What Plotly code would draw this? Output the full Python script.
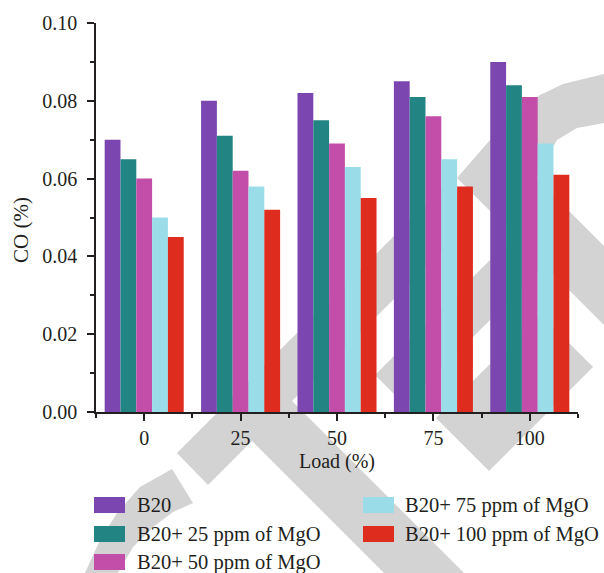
import plotly.graph_objects as go

# ---- data -------------------------------------------------------------
loads = ["0", "25", "50", "75", "100"]
series_names = [
    "B20",
    "B20+ 25 ppm of MgO",
    "B20+ 50 ppm of MgO",
    "B20+ 75 ppm of MgO",
    "B20+ 100 ppm of MgO",
]
co_b20 = [0.070, 0.080, 0.082, 0.085, 0.090]
co_mgo25 = [0.065, 0.071, 0.075, 0.081, 0.084]
co_mgo50 = [0.060, 0.062, 0.069, 0.076, 0.081]
co_mgo75 = [0.050, 0.058, 0.063, 0.065, 0.069]
co_mgo100 = [0.045, 0.052, 0.055, 0.058, 0.061]
y_ticks = [0.00, 0.02, 0.04, 0.06, 0.08, 0.10]

# ---- styling ----------------------------------------------------------
colors = ["#7B46B0", "#238583", "#C34EA9", "#9ADDE9", "#DE2C1F"]
FONT = "Liberation Serif"
INK = "#231F20"
W, H = 604, 573
PL, PR, PT, PB = 96, 578, 23, 412   # plot area in pixels


def px(x, y):
    """Pixel position -> paper coordinates."""
    return (x - PL) / (PR - PL), (PB - y) / (PB - PT)


def poly_path(points):
    parts = []
    for i, (x, y) in enumerate(points):
        u, v = px(x, y)
        parts.append(("M" if i == 0 else "L") + f"{u:.4f},{v:.4f}")
    return " ".join(parts) + " Z"


# light grey background emblem
emblem = [
    [(457, 178), (490, 140), (515, 114), (540, 95), (563, 84), (604, 74),
     (660, 68), (660, 120), (604, 123), (577, 128), (557, 140), (536, 178),
     (660, 302), (660, 381)],
    [(177, 453), (208, 485), (452, 241), (452, 178)],
    [(240, 429), (430, 619), (510, 619), (285, 394)],
    [(375, 375), (555, 195), (555, 255), (405, 405)],
    [(436, 418), (489, 471), (593, 367), (540, 314)],
    [(172, 469), (140, 487), (117, 513), (100, 540), (85, 573), (80, 595),
     (115, 595), (118, 573), (133, 547), (153, 527), (173, 512), (193, 503)],
]

fig = go.Figure()
series = [co_b20, co_mgo25, co_mgo50, co_mgo75, co_mgo100]
for name, vals, col in zip(series_names, series, colors):
    fig.add_trace(go.Bar(
        x=list(range(len(loads))), y=vals, name=name,
        marker=dict(color=col, line=dict(width=0)),
        showlegend=False,
    ))

shapes = [
    dict(type="path", path=poly_path(p), xref="paper", yref="paper",
         fillcolor="#D3D3D3", line=dict(width=0), layer="below")
    for p in emblem
]

# legend laid out in two columns (column-major order)
leg_cols_x = [94, 363]
leg_text_x = [135, 403]
leg_rows_y = [505, 534, 562]
annotations = []
for i, (name, col) in enumerate(zip(series_names, colors)):
    c, r = divmod(i, 3)
    x0, y0 = px(leg_cols_x[c], leg_rows_y[r] - 8)
    x1, y1 = px(leg_cols_x[c] + 31, leg_rows_y[r] + 8)
    shapes.append(dict(type="rect", xref="paper", yref="paper",
                       x0=x0, x1=x1, y0=y0, y1=y1,
                       fillcolor=col, line=dict(width=0), layer="above"))
    tx, ty = px(leg_text_x[c], leg_rows_y[r])
    annotations.append(dict(text=name, xref="paper", yref="paper", x=tx, y=ty,
                            xanchor="left", yanchor="middle", showarrow=False,
                            font=dict(family=FONT, size=20.5, color=INK)))

# y axis title
tx, ty = px(21, 230)
annotations.append(dict(text="CO (%)", xref="paper", yref="paper", x=tx, y=ty,
                        xanchor="center", yanchor="middle", textangle=-90,
                        showarrow=False,
                        font=dict(family=FONT, size=21, color=INK)))

fig.update_layout(
    width=W, height=H,
    margin=dict(l=PL, r=W - PR, t=PT, b=H - PB, pad=0),
    paper_bgcolor="white", plot_bgcolor="rgba(0,0,0,0)",
    barmode="group", bargap=0.18, bargroupgap=0,
    font=dict(family=FONT, size=20, color=INK),
    shapes=shapes, annotations=annotations,
    xaxis=dict(
        range=[-0.5, len(loads) - 0.5],
        tickvals=list(range(len(loads))), ticktext=loads,
        ticks="outside", ticklen=7, tickwidth=1.5, tickcolor=INK,
        showline=True, linecolor=INK, linewidth=1.5,
        showgrid=False, zeroline=False,
        tickfont=dict(family=FONT, size=20, color=INK),
        minor=dict(tickvals=[k - 0.5 for k in range(len(loads) + 1)],
                   ticks="outside", ticklen=4, tickwidth=1.5, tickcolor=INK),
        title=dict(text="Load (%)", standoff=6,
                   font=dict(family=FONT, size=20, color=INK)),
    ),
    yaxis=dict(
        range=[0, 0.1],
        tickvals=y_ticks, tickformat=".2f",
        ticks="outside", ticklen=7, tickwidth=1.5, tickcolor=INK,
        showline=True, linecolor=INK, linewidth=1.5,
        showgrid=False, zeroline=False,
        tickfont=dict(family=FONT, size=20, color=INK),
        ticklabelstandoff=6,
        minor=dict(dtick=0.01, ticks="outside", ticklen=4, tickwidth=1.5,
                   tickcolor=INK),
    ),
)

fig.write_html("out.html")
